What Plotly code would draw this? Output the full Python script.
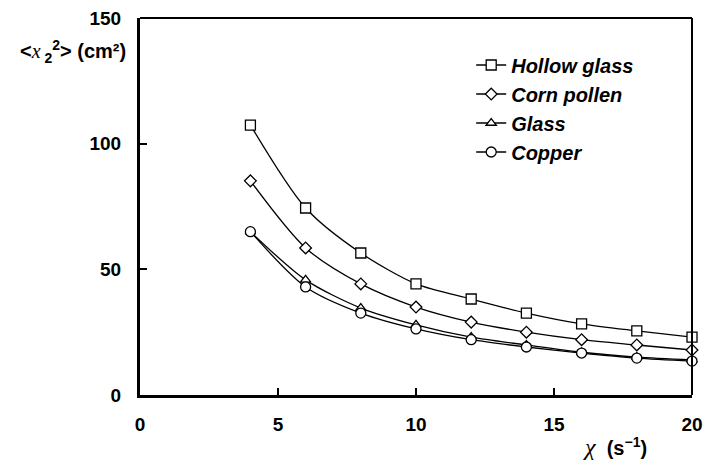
import plotly.graph_objects as go

x_vals = [4, 6, 8, 10, 12, 14, 16, 18, 20]
hollow_glass = [107.4, 74.4, 56.5, 44.2, 38.2, 32.6, 28.3, 25.5, 23.0]
corn_pollen = [85.2, 58.5, 44.2, 35.0, 29.0, 25.0, 22.0, 19.9, 17.9]
glass = [65.0, 45.8, 34.6, 27.9, 23.0, 19.9, 17.0, 15.1, 14.0]
copper = [65.0, 43.0, 32.6, 26.3, 22.0, 19.1, 16.7, 14.7, 13.5]

series = [
    ("Hollow glass", hollow_glass, "square", 10),
    ("Corn pollen", corn_pollen, "diamond", 9),
    ("Glass", glass, "triangle-up", 9),
    ("Copper", copper, "circle", 10),
]

fig = go.Figure()
for i, (name, vals, sym, sz) in enumerate(series):
    fig.add_trace(go.Scatter(
        x=x_vals, y=vals, name=name, mode="lines+markers",
        line=dict(color="black", width=1.3, shape="spline", smoothing=0.8),
        marker=dict(symbol=sym, size=sz, color="white",
                    line=dict(color="black", width=1.3)),
        cliponaxis=False, legendgroup=f"g{i}",
    ))

tick_font = dict(family="Liberation Sans, Arial, sans-serif", size=19,
                 color="black", weight="bold")

fig.update_layout(
    width=703, height=460,
    margin=dict(l=140, r=11, t=18, b=65, autoexpand=False),
    paper_bgcolor="white", plot_bgcolor="white",
    showlegend=True,
    legend=dict(
        x=0.6, y=0.927, xanchor="left", yanchor="top",
        font=dict(family="Liberation Sans, Arial, sans-serif", size=20,
                  color="black", weight="bold", style="italic"),
        bgcolor="rgba(0,0,0,0)", itemwidth=30, tracegroupgap=0,
    ),
    xaxis=dict(
        range=[0, 20], tickvals=[0, 5, 10, 15, 20],
        ticks="inside", ticklen=7, tickwidth=2, tickcolor="black",
        showline=True, linewidth=3, linecolor="black",
        showgrid=False, zeroline=False, tickfont=tick_font,
        ticklabelstandoff=10, automargin=False,
    ),
    yaxis=dict(
        range=[0, 150], tickvals=[0, 50, 100, 150],
        ticks="inside", ticklen=7, tickwidth=2, tickcolor="black",
        showline=True, linewidth=3, linecolor="black",
        showgrid=False, zeroline=False, tickfont=tick_font,
        ticklabelstandoff=12, automargin=False,
    ),
    shapes=[
        dict(type="line", xref="paper", yref="paper", x0=0, x1=1, y0=1, y1=1,
             line=dict(color="black", width=2)),
        dict(type="line", xref="paper", yref="paper", x0=1, x1=1, y0=0, y1=1,
             line=dict(color="black", width=2)),
    ],
    annotations=[
        dict(xref="paper", yref="paper", x=-0.022, y=0.91,
             xanchor="right", yanchor="middle", showarrow=False,
             text="&lt;<i><span style='font-family:Liberation Serif;font-weight:normal'>x</span></i><sub> 2</sub><sup>2</sup>&gt; (cm²)",
             font=dict(family="Liberation Sans, Arial, sans-serif", size=20,
                       color="black", weight="bold")),
        dict(xref="paper", yref="paper", x=0.86, y=-0.138,
             xanchor="center", yanchor="middle", showarrow=False,
             text="<i><span style='font-family:Liberation Serif;font-weight:normal;font-size:24px'>χ</span></i>  (s<sup>−1</sup>)",
             font=dict(family="Liberation Sans, Arial, sans-serif", size=20,
                       color="black", weight="bold")),
    ],
)

fig.write_html("out.html")
